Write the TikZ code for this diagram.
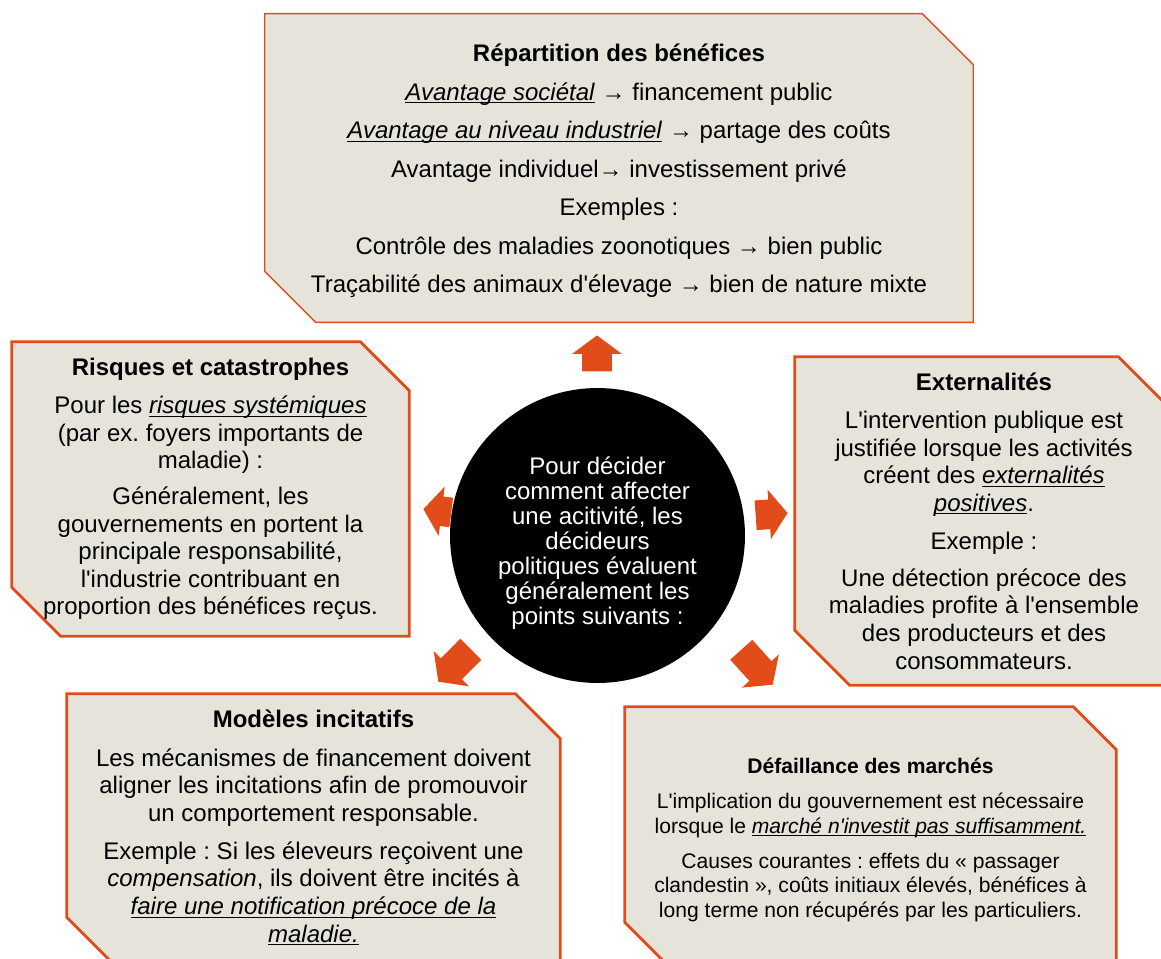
\documentclass[tikz,border=0pt]{standalone}
\usepackage{fontspec}
\setmainfont{Liberation Sans}[Ligatures=TeXOff]
\usepackage{tikz}
\usetikzlibrary{
  shapes.arrows,
  backgrounds,
  positioning
}
\definecolor{snipfill}{RGB}{230,227,218}
\definecolor{edgered}{RGB}{226,76,26}

\tikzset{
  snipbox/.style={align=center, inner sep=0pt,
                  font=\fontsize{13.66}{15.7}\selectfont},
  snipedge/.style={draw=edgered, fill=snipfill, line width=1.6pt},
  blockarrow/.style={single arrow, fill=edgered, inner xsep=0pt, inner ysep=0.29cm,
                     single arrow head extend=0.2cm, single arrow tip angle=107, anchor=tip}
}

% frame with the north east and south west corners cut off
\newcommand{\snipframe}[3][]{%
  \draw[snipedge,#1] (#2.north west) -- ([xshift=-#3]#2.north east)
    -- ([yshift=-#3]#2.north east) -- (#2.south east)
    -- ([xshift=#3]#2.south west) -- ([yshift=#3]#2.south west) -- cycle;}
% underlined italic words
\newcommand{\ulit}[1]{\underline{\smash{\textit{#1}}}}

\frenchspacing
\begin{document}
\begin{tikzpicture}[x=0.02cm, y=-0.02cm]
  \useasboundingbox (0,0) rectangle (1161,958);
  % Centre
  \node[circle, fill=black, text=white, minimum size=5.9cm, inner sep=0pt, align=center,
        font=\fontsize{13.66}{14.2}\selectfont] (hub) at (597.5,535.5)
        {\rule{0pt}{19pt}Pour décider\\comment affecter\\une acitivité, les\\décideurs\\
         politiques évaluent\\généralement les\\points suivants :};
  % Top box
  \node[snipbox, minimum width=14.16cm, minimum height=6.16cm,
        font=\fontsize{13.66}{21.9}\selectfont] (repart) at (619,168)
        {\rule{0pt}{13.4pt}\textbf{Répartition des bénéfices}\\
         \ulit{Avantage sociétal} → financement public\\
         \ulit{Avantage au niveau industriel} → partage des coûts\\
         Avantage individuel→ investissement privé\\
         Exemples :\\
         Contrôle des maladies zoonotiques → bien public\\
         Traçabilité des animaux d'élevage → bien de nature mixte};
  % Left box
  \node[snipbox, minimum width=7.94cm, minimum height=5.88cm] (risques) at (210.5,489)
        {\textbf{Risques et catastrophes}\\[6pt]
         Pour les \ulit{risques systémiques}\\
         (par ex. foyers importants de\\
         maladie) :\\[4.8pt]
         Généralement, les\\
         gouvernements en portent la\\
         principale responsabilité,\\
         l'industrie contribuant en\\
         proportion des bénéfices reçus.};
  % Right box
  \node[snipbox, minimum width=7.56cm, minimum height=6.56cm] (extern) at (984,521)
        {\textbf{Externalités}\\[6pt]
         L'intervention publique est\\
         justifiée lorsque les activités\\
         créent des \ulit{externalités}\\
         \ulit{positives}.\\[6pt]
         Exemple :\\[5.3pt]
         Une détection précoce des\\
         maladies profite à l'ensemble\\
         des producteurs et des\\
         consommateurs.};
  % Bottom left box
  \node[snipbox, minimum width=9.86cm, minimum height=5.36cm] (incit) at (313.5,828)
        {\textbf{Modèles incitatifs}\\[6pt]
         Les mécanismes de financement doivent\\
         aligner les incitations afin de promouvoir\\
         un comportement responsable.\\[6pt]
         Exemple : Si les éleveurs reçoivent une\\
         \textit{compensation}, ils doivent être incités à\\
         \ulit{faire une notification précoce de la}\\
         \ulit{maladie.}};
  % Bottom right box
  \node[snipbox, minimum width=9.82cm, minimum height=5.16cm,
        font=\fontsize{12}{13.9}\selectfont] (defail) at (870.5,836)
        {\rule{0pt}{13.3pt}\textbf{Défaillance des marchés}\\[6pt]
         L'implication du gouvernement est nécessaire\\
         lorsque le \ulit{marché n'investit pas suffisamment.}\\[6pt]
         Causes courantes : effets du « passager\\
         clandestin », coûts initiaux élevés, bénéfices à\\
         long terme non récupérés par les particuliers.};
  % Frames
  \begin{scope}[on background layer]
    \snipframe[line width=0.8pt]{repart}{1.02cm}
    \snipframe{risques}{0.98cm}
    \snipframe{extern}{1.1cm}
    \snipframe{incit}{0.9cm}
    \snipframe{defail}{0.86cm}
  \end{scope}
  % Arrows
  \node[blockarrow, minimum height=0.72cm, rotate=90] (toRepart) at (597,335) {};
  \node[blockarrow, minimum height=0.64cm, rotate=4] (toExtern) at (788,513) {};
  \node[blockarrow, minimum height=0.56cm, rotate=173] (toRisques) at (423,509) {};
  \node[blockarrow, minimum height=0.92cm, rotate=-135] (toIncit) at (438,682) {};
  \node[blockarrow, minimum height=0.94cm, rotate=-48] (toDefail) at (773,685) {};
\end{tikzpicture}
\end{document}
